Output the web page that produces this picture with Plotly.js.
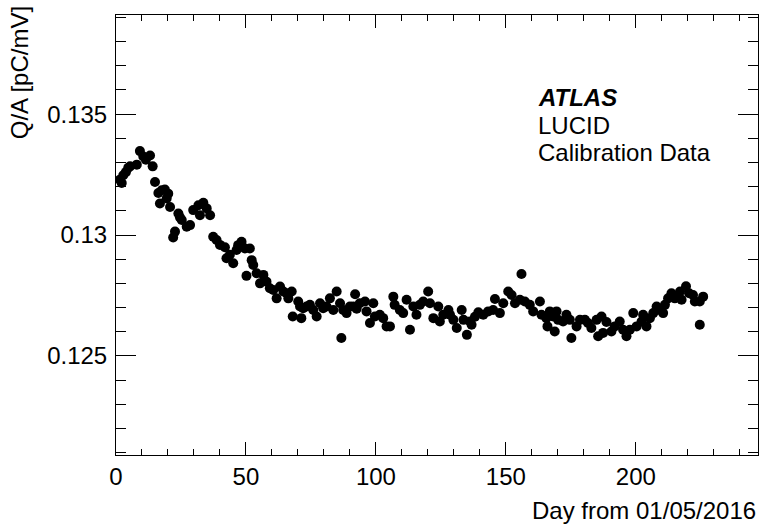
<!DOCTYPE html>
<html>
<head>
<meta charset="utf-8">
<script src="https://cdn.plot.ly/plotly-3.0.1.min.js"></script>
<style>html,body{margin:0;padding:0;background:#fff;}#chart{width:763px;height:528px;}</style>
</head>
<body>
<div id="chart"></div>
<script>
// Day since 01/05/2016
var days = [
1.5,2.2,2.8,3.8,4.7,5.4,8.0,9.2,10.5,11.5,13.1,14.1,15.0,16.3,16.9,17.6,18.8,19.5,20.1,20.8,
22.0,22.7,24.0,24.6,25.3,27.2,28.5,29.7,31.7,32.3,33.6,34.9,36.2,37.4,38.7,40.0,41.9,42.5,43.8,45.1,
46.4,47.0,48.3,49.6,50.2,51.5,52.2,52.8,54.1,55.4,56.7,57.9,59.2,60.5,61.8,63.1,64.4,65.6,66.3,67.6,
68.0,70.1,70.8,71.3,72.0,73.3,74.6,75.9,77.2,78.5,79.7,81.0,82.3,83.6,84.9,86.2,86.7,87.4,88.7,90.0,
91.3,92.0,92.6,93.8,95.8,96.4,97.7,99.0,99.6,101.5,102.8,104.1,105.4,106.7,107.2,109.2,110.5,111.8,113.1,114.4,
115.6,116.9,118.2,120.1,120.8,122.1,124.0,124.6,125.9,127.9,128.5,129.8,131.1,133.0,133.7,135.0,136.2,136.8,138.1,139.4,
141.3,143.2,145.1,145.8,147.7,149.0,150.9,152.2,153.5,155.4,156.0,157.3,159.2,160.5,163.1,163.7,165.6,166.0,166.9,168.2,
168.8,169.5,170.1,172.0,173.3,174.6,175.2,177.2,178.5,180.4,181.6,182.9,184.9,185.5,186.8,187.4,188.7,190.6,191.9,193.8,
195.1,196.4,197.7,199.0,200.3,202.2,202.8,204.1,205.4,206.7,208.0,209.2,210.5,211.2,212.4,213.7,215.0,217.0,217.6,219.3,
220.5,222.0,222.7,224.6,225.9,224.6
];
// Q/A [pC/mV]
var qa = [
0.13229,0.13215,0.13247,0.13260,0.13278,0.13284,0.13291,0.13347,0.13325,0.13311,0.13329,0.13284,0.13219,0.13174,0.13130,0.13185,0.13188,0.13151,0.13171,0.13116,
0.12990,0.13014,0.13089,0.13073,0.13062,0.13034,0.13041,0.13103,0.13123,0.13082,0.13133,0.13110,0.13082,0.12993,0.12979,0.12959,0.12949,0.12904,0.12918,0.12883,
0.12938,0.12958,0.12972,0.12944,0.12831,0.12944,0.12896,0.12876,0.12842,0.12800,0.12835,0.12807,0.12780,0.12773,0.12738,0.12787,0.12766,0.12759,0.12738,0.12766,
0.12663,0.12725,0.12704,0.12656,0.12697,0.12704,0.12711,0.12690,0.12663,0.12718,0.12697,0.12704,0.12738,0.12690,0.12766,0.12718,0.12574,0.12690,0.12677,0.12704,
0.12704,0.12755,0.12695,0.12718,0.12725,0.12684,0.12636,0.12718,0.12663,0.12670,0.12656,0.12622,0.12622,0.12745,0.12711,0.12690,0.12677,0.12732,0.12608,0.12704,
0.12670,0.12711,0.12725,0.12766,0.12718,0.12656,0.12704,0.12642,0.12670,0.12690,0.12670,0.12649,0.12615,0.12690,0.12649,0.12587,0.12642,0.12629,0.12662,0.12680,
0.12670,0.12684,0.12690,0.12735,0.12677,0.12718,0.12766,0.12752,0.12718,0.12732,0.12839,0.12725,0.12711,0.12684,0.12725,0.12670,0.12656,0.12622,0.12684,0.12663,
0.12601,0.12684,0.12649,0.12642,0.12670,0.12649,0.12574,0.12622,0.12649,0.12649,0.12636,0.12615,0.12649,0.12581,0.12663,0.12595,0.12640,0.12601,0.12622,0.12642,
0.12608,0.12581,0.12608,0.12677,0.12622,0.12642,0.12670,0.12622,0.12656,0.12677,0.12704,0.12690,0.12677,0.12711,0.12738,0.12759,0.12738,0.12766,0.12732,0.12788,
0.12759,0.12752,0.12725,0.12725,0.12745,0.12629
];
var xRange = [0, 247];
var yRange = [0.1209, 0.1391];
var labelLines = ['<b><i>ATLAS</i></b>', 'LUCID', 'Calibration Data'];
var xTitle = 'Day from 01/05/2016';
var yTitle = 'Q/A [pC/mV]';

var FONT = 'Liberation Sans, Arial, Helvetica, sans-serif';
var FS = 24;
var axisCommon = {
  showgrid: false, zeroline: false, showline: true, linecolor: '#000', linewidth: 1,
  mirror: 'allticks', ticks: 'inside', tickcolor: '#000', tickwidth: 1,
  tickfont: {family: FONT, size: FS, color: '#000'}
};
var layout = {
  width: 763, height: 528,
  margin: {l: 116, r: 5, t: 15, b: 73},
  paper_bgcolor: '#fff', plot_bgcolor: '#fff',
  showlegend: false,
  font: {family: FONT, color: '#000'},
  xaxis: Object.assign({}, axisCommon, {
    range: xRange, tickmode: 'linear', tick0: 0, dtick: 50, ticklen: 13,
    minor: {tickmode: 'linear', tick0: 0, dtick: 10, ticklen: 6, ticks: 'inside', tickcolor: '#000', tickwidth: 1, showgrid: false}
  }),
  yaxis: Object.assign({}, axisCommon, {
    range: yRange, tickmode: 'linear', tick0: 0.125, dtick: 0.005, ticklen: 20,
    ticklabelstandoff: 3,
    minor: {tickmode: 'linear', tick0: 0.12, dtick: 0.001, ticklen: 10, ticks: 'inside', tickcolor: '#000', tickwidth: 1, showgrid: false}
  }),
  annotations: [
    {xref: 'paper', yref: 'paper', x: 1.0, y: -0.127, xanchor: 'right', yanchor: 'middle',
     text: xTitle, showarrow: false, font: {family: FONT, size: FS, color: '#000'}},
    {xref: 'paper', yref: 'paper', x: -0.149, y: 1.024, xanchor: 'center', yanchor: 'top', textangle: -90,
     text: yTitle, showarrow: false, font: {family: FONT, size: FS, color: '#000'}},
    {xref: 'paper', yref: 'paper', x: 0.654, y: 0.812, xanchor: 'left', yanchor: 'middle',
     text: labelLines[0], showarrow: false, font: {family: FONT, size: FS, color: '#000'}},
    {xref: 'paper', yref: 'paper', x: 0.654, y: 0.749, xanchor: 'left', yanchor: 'middle',
     text: labelLines[1], showarrow: false, font: {family: FONT, size: FS, color: '#000'}},
    {xref: 'paper', yref: 'paper', x: 0.654, y: 0.688, xanchor: 'left', yanchor: 'middle',
     text: labelLines[2], showarrow: false, font: {family: FONT, size: FS, color: '#000'}}
  ]
};
var trace = {
  x: days, y: qa, type: 'scatter', mode: 'markers',
  marker: {color: '#000', size: 10, line: {width: 0}},
  hoverinfo: 'skip'
};
Plotly.newPlot('chart', [trace], layout, {staticPlot: true, displayModeBar: false});
</script>
</body>
</html>
